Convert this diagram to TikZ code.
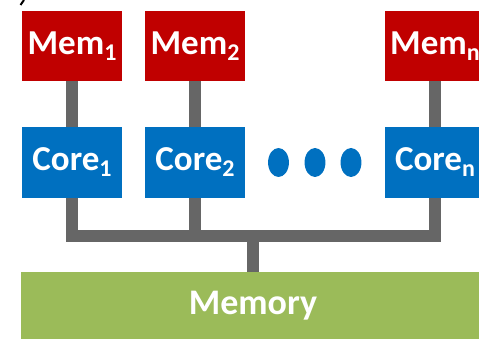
\documentclass[tikz,border=0pt]{standalone}
\usepackage{fontspec}
\setmainfont{Carlito}
\newcommand\lowidx[1]{\raisebox{-6pt}{\fontsize{24}{24}\selectfont #1}}
\definecolor{memred}{HTML}{C00000}
\definecolor{coreblue}{HTML}{0070C0}
\definecolor{memgreen}{HTML}{9BBB59}
\definecolor{wiregray}{HTML}{666666}
\begin{document}
\begin{tikzpicture}[x=1pt,y=-1pt,
  membox/.style={fill=memred,text=white,font=\fontsize{35}{35}\selectfont\bfseries,minimum width=100pt,minimum height=70pt,inner sep=0pt},
  corebox/.style={fill=coreblue,text=white,font=\fontsize{35}{35}\selectfont\bfseries,minimum width=100pt,minimum height=71pt,inner sep=0pt},
  bigmem/.style={fill=memgreen,text=white,font=\fontsize{36}{36}\selectfont\bfseries,minimum width=464pt,minimum height=67pt,inner sep=0pt},
  wire/.style={draw=wiregray,line width=12pt,line join=miter},
  blob/.style={circle,fill=coreblue,minimum size=29pt,inner sep=0pt,xscale=0.72}]
\useasboundingbox (0,0) rectangle (479,339);
\draw[line width=2pt] (24,0) -- (20.5,5);
\node[membox] (mem1) at (72,46) {Mem\lowidx{1}};
\node[membox] (mem2) at (195,46) {Mem\lowidx{2}};
\node[membox] (memn) at (435,46) {Mem\lowidx{n}};
\node[corebox] (core1) at (72,162.5) {Core\lowidx{1}};
\node[corebox] (core2) at (195,162.5) {Core\lowidx{2}};
\node[corebox] (coren) at (435,162.5) {Core\lowidx{n}};
\node[bigmem] (memory) at (253,305.5) {Memory};
\node[blob] (d1) at (278.5,162.5) {};
\node[blob] (d2) at (315,162.5) {};
\node[blob] (d3) at (351,162.5) {};
\coordinate (bus) at (253,235.5);
\draw[wire] (mem1.south) -- (core1.north);
\draw[wire] (mem2.south) -- (core2.north);
\draw[wire] (memn.south) -- (coren.north);
\draw[wire] (core1.south) |- (bus) -| (coren.south);
\draw[wire] (core2.south) -- (core2.south |- bus);
\draw[wire] (bus) -- (memory.north);
\end{tikzpicture}
\end{document}
